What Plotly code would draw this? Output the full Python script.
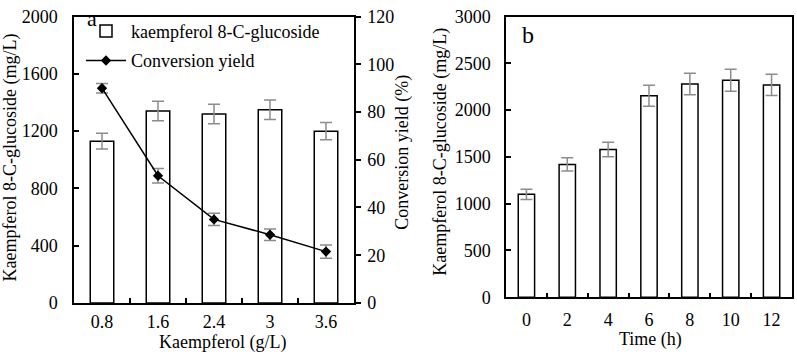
import plotly.graph_objects as go

# Panel a data
kae_conc = ["0.8", "1.6", "2.4", "3", "3.6"]
kg_a = [1130, 1340, 1320, 1350, 1200]
kg_a_err = [55, 68, 68, 68, 60]
yield_a = [90, 53.3, 35, 28.6, 21.5]
yield_a_err = [2, 3, 2.6, 2.4, 2.8]

# Panel b data
time_h = ["0", "2", "4", "6", "8", "10", "12"]
kg_b = [1100, 1420, 1580, 2155, 2280, 2320, 2270]
kg_b_err = [55, 70, 78, 112, 115, 118, 113]

FONT = "Times New Roman, Liberation Serif, serif"
FS = 18
W, H = 797, 363

def px(x):
    return x / W

def py(y):
    return 1 - y / H

err_style = dict(type="data", color="#8c8c8c", thickness=1.5, width=6)

fig = go.Figure()
fig.add_trace(go.Bar(
    x=kae_conc, y=kg_a, name="kaempferol 8-C-glucoside", legendgroup="g1",
    marker=dict(color="white", line=dict(color="black", width=1.5)),
    width=0.42,
    error_y=dict(array=kg_a_err, **err_style),
    xaxis="x", yaxis="y",
))
fig.add_trace(go.Scatter(
    x=kae_conc, y=yield_a, name="Conversion yield", mode="lines+markers",
    legendgroup="g2",
    line=dict(color="black", width=1.5),
    marker=dict(symbol="diamond", size=8, color="black"),
    error_y=dict(array=yield_a_err, **err_style),
    xaxis="x", yaxis="y2",
))
fig.add_trace(go.Bar(
    x=time_h, y=kg_b, showlegend=False,
    marker=dict(color="white", line=dict(color="black", width=1.5)),
    width=0.4,
    error_y=dict(array=kg_b_err, **err_style),
    xaxis="x2", yaxis="y3",
))

axis_common = dict(
    showline=True, linecolor="black", linewidth=1.5, showgrid=False,
    zeroline=False, tickcolor="black", ticklen=5, tickwidth=1.5,
    ticklabeloverflow="allow",
    tickfont=dict(family=FONT, size=FS, color="black"),
)
tfont = dict(family=FONT, size=FS, color="black")

def title_ann(text, x, y, angle=0):
    return dict(text=text, x=px(x), y=py(y), xref="paper", yref="paper",
                xanchor="center", yanchor="middle", textangle=angle,
                showarrow=False, font=tfont)

fig.update_layout(
    width=W, height=H,
    margin=dict(l=0, r=0, t=0, b=0),
    paper_bgcolor="white", plot_bgcolor="white",
    font=dict(family=FONT, size=FS, color="black"),
    xaxis=dict(domain=[px(74), px(354)], anchor="y", type="category",
               ticks="inside", tickson="boundaries", mirror=True,
               ticklabelstandoff=2, **axis_common),
    yaxis=dict(domain=[py(310), py(7)], anchor="x", range=[0, 2000],
               tickvals=[0, 400, 800, 1200, 1600, 2000], ticks="inside",
               ticklabelstandoff=11, **axis_common),
    yaxis2=dict(anchor="x", overlaying="y", side="right", range=[0, 120],
                tickvals=[0, 20, 40, 60, 80, 100, 120], ticks="outside",
                ticklabelstandoff=3, **axis_common),
    xaxis2=dict(domain=[px(506), px(792)], anchor="y3", type="category",
                ticks="inside", tickson="boundaries", mirror=True,
                ticklabelstandoff=5, **axis_common),
    yaxis3=dict(domain=[py(304), py(7)], anchor="x2", range=[0, 3000],
                tickvals=[0, 500, 1000, 1500, 2000, 2500, 3000],
                ticks="inside", mirror=True, ticklabelstandoff=10,
                **axis_common),
    legend=dict(x=px(81), y=py(3), xanchor="left", yanchor="top",
                bgcolor="rgba(0,0,0,0)", font=tfont,
                tracegroupgap=3, itemwidth=40),
    annotations=[
        dict(text="a", x=px(92), y=py(9), xref="paper", yref="paper",
             xanchor="center", yanchor="middle",
             showarrow=False, font=dict(family=FONT, size=22)),
        dict(text="b", x=px(528), y=py(26), xref="paper", yref="paper",
             xanchor="center", yanchor="middle",
             showarrow=False, font=dict(family=FONT, size=24)),
        title_ann("Kaempferol 8-C-glucoside (mg/L)", 10, 156, -90),
        title_ann("Conversion yield (%)", 403, 151, -90),
        title_ann("Kaempferol (g/L)", 223, 352),
        title_ann("Kaempferol 8-C-glucoside (mg/L)", 441, 150, -90),
        title_ann("Time (h)", 650, 349),
    ],
)

page_css = (
    "document.documentElement.style.margin='0';"
    "document.documentElement.style.overflow='hidden';"
    "document.body.style.margin='0';"
    "document.body.style.overflow='hidden';"
    "document.body.style.height='363px';"
)

fig.write_html("out.html", config={"displayModeBar": False},
               post_script=page_css)
